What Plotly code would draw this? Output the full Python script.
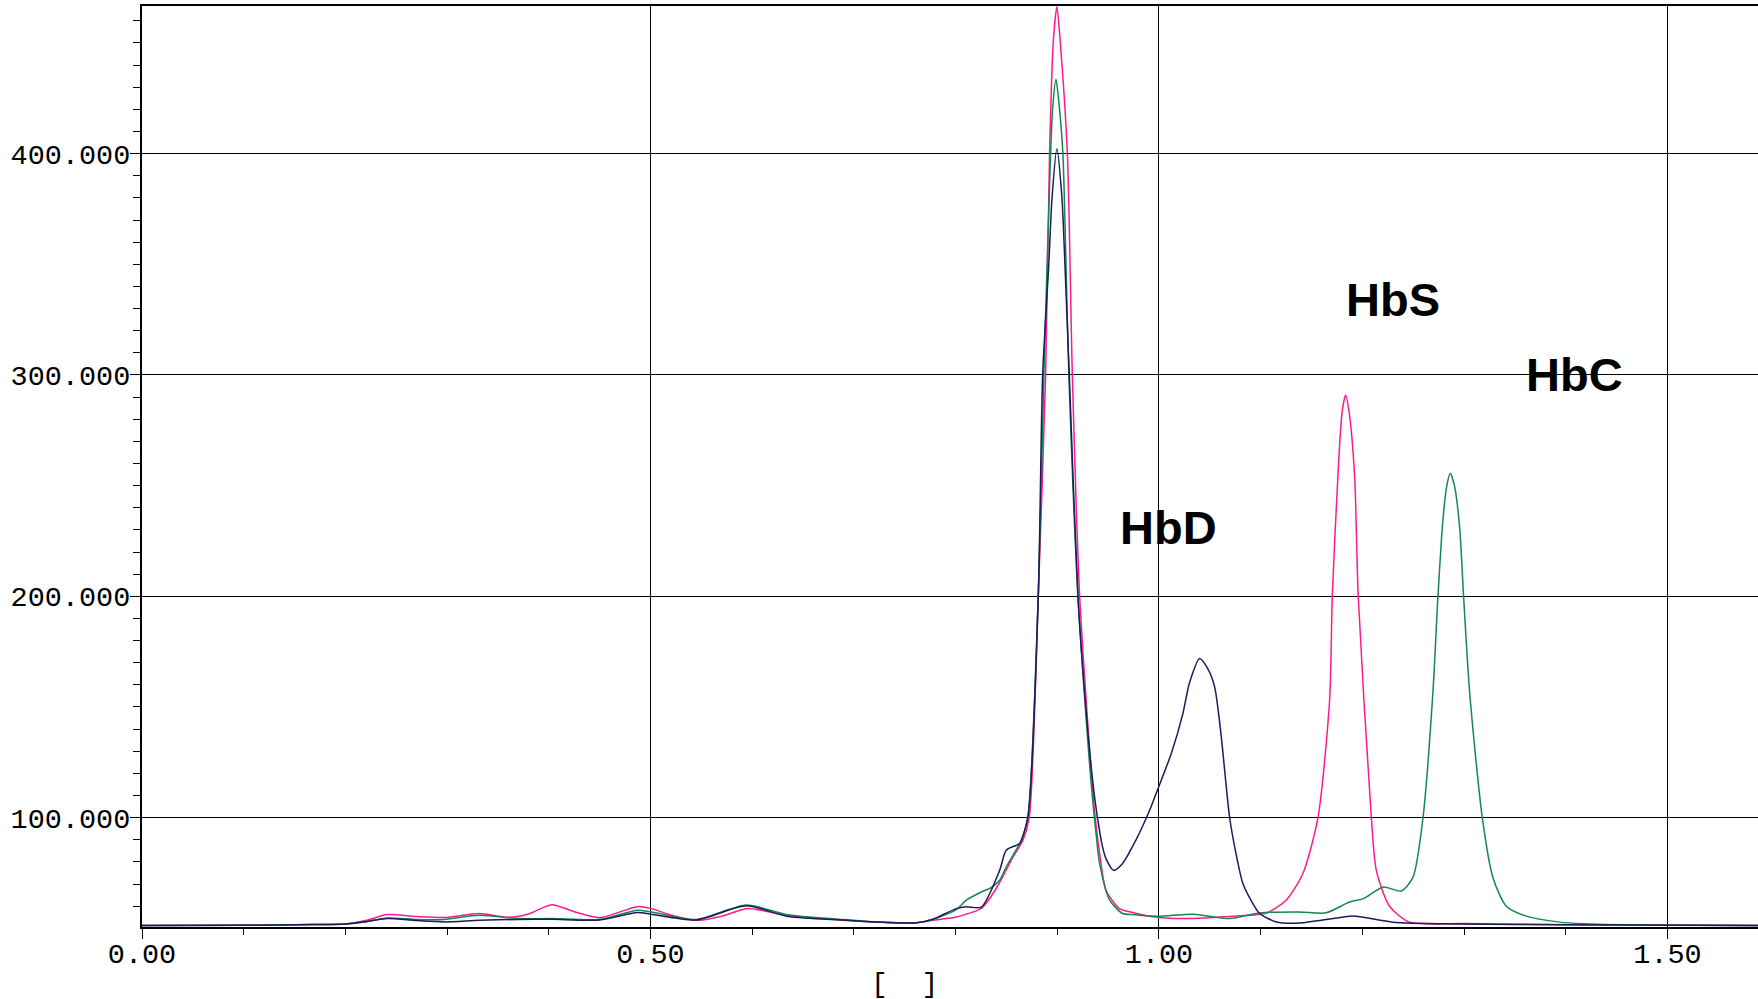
import plotly.graph_objects as go

# ---- data (x in the axis units, y in signal units) ----
hbs_x = [0.00, 0.10, 0.17, 0.20, 0.22, 0.241, 0.27, 0.2976, 0.3314, 0.36, 0.38, 0.4028, 0.425,
         0.45, 0.487, 0.5008, 0.52, 0.545, 0.57, 0.5942, 0.61, 0.6335, 0.6794, 0.7285, 0.7614,
         0.7777, 0.8007, 0.8105, 0.8253, 0.84, 0.8564, 0.8662, 0.8724, 0.8813, 0.8885, 0.8924,
         0.896, 0.8996, 0.903, 0.9099, 0.9148, 0.922, 0.934, 0.9373, 0.9416, 0.9479, 0.961,
         0.9711, 0.9905, 1.0235, 1.0727, 1.1055, 1.125, 1.1415, 1.1563, 1.1678, 1.1704, 1.1759,
         1.18, 1.1835, 1.187, 1.1924, 1.1959, 1.2088, 1.2137, 1.2267, 1.2464, 1.30, 1.40, 1.589]
hbs_y = [51.3, 51.4, 51.7, 52.0, 53.5, 56.2, 55.3, 54.9, 56.7, 55.0, 56.5, 60.7, 57.5,
         54.8, 59.8, 58.9, 56.0, 53.6, 55.5, 58.9, 58.0, 55.9, 54.0, 52.7, 52.5,
         53.6, 55.1, 56.4, 59.0, 68.0, 82.2, 89.8, 100, 200, 300, 400,
         450, 466.4, 450, 400, 300, 200, 117, 100, 84.0, 67.2, 58.9,
         57.5, 55.5, 54.4, 55.5, 56.9, 62.7, 74.8, 100, 153.4, 200, 254,
         283, 290.8, 283, 254, 200, 100, 76.2, 60.0, 52.8, 52.2, 51.6, 51.3]

hbc_x = [0.00, 0.10, 0.17, 0.20, 0.22, 0.241, 0.27, 0.2976, 0.3314, 0.369, 0.4028, 0.45,
         0.487, 0.5008, 0.545, 0.5942, 0.6335, 0.6794, 0.7285, 0.7614, 0.7777, 0.8007,
         0.8105, 0.8253, 0.835, 0.8433, 0.8498, 0.8646, 0.871, 0.8813, 0.8868, 0.8934,
         0.8955, 0.8987, 0.902, 0.9055, 0.9114, 0.9203, 0.933, 0.9383, 0.9416, 0.9515,
         0.9642, 0.9744, 0.981, 1.0006, 1.0333, 1.0694, 1.099, 1.138, 1.1643, 1.1874,
         1.2005, 1.2202, 1.2383, 1.2497, 1.2596, 1.2694, 1.2743, 1.2792, 1.283, 1.2864,
         1.2905, 1.2956, 1.2995, 1.3054, 1.3179, 1.3283, 1.3415, 1.3612, 1.394, 1.4175,
         1.498, 1.589]
hbc_y = [51.3, 51.4, 51.7, 52.0, 53.0, 54.7, 54.0, 54.0, 55.9, 54.4, 54.4, 54.0,
         58.2, 57.4, 54.0, 60.5, 56.3, 54.3, 52.7, 52.5, 54.0, 58.5,
         62.7, 66.4, 68.4, 71.7, 77.7, 89.8, 100, 200, 300, 400,
         421, 433.6, 421, 400, 300, 200, 117, 92.0, 79.3, 62.7,
         56.7, 56.2, 55.9, 55.5, 56.4, 54.4, 56.9, 57.4, 57.0, 61.9,
         63.3, 68.6, 66.9, 73.0, 100, 157, 200, 234.6, 250, 255.6,
         250, 231.3, 200, 157, 100, 73.0, 60.0, 55.5, 52.8, 52.1,
         51.4, 51.3]

hbd_x = [0.00, 0.10, 0.17, 0.20, 0.22, 0.241, 0.27, 0.2976, 0.3314, 0.369, 0.4028, 0.45,
         0.487, 0.5008, 0.545, 0.5942, 0.6335, 0.6794, 0.7285, 0.7614, 0.7777, 0.8007,
         0.8105, 0.8253, 0.8433, 0.8498, 0.8597, 0.863, 0.871, 0.8813, 0.8856, 0.8915,
         0.8948, 0.8996, 0.9046, 0.9076, 0.9118, 0.9203, 0.928, 0.9347, 0.9395, 0.9445,
         0.9479, 0.9554, 0.9642, 0.9774, 0.9905, 1.0006, 1.0121, 1.0235, 1.0298, 1.04,
         1.0478, 1.0547, 1.0609, 1.0694, 1.0757, 1.0825, 1.0904, 1.099, 1.1153, 1.138,
         1.171, 1.1907, 1.23, 1.2956, 1.40, 1.589]
hbd_y = [51.3, 51.4, 51.7, 52.0, 53.0, 54.4, 53.5, 52.9, 53.6, 54.0, 54.1, 53.8,
         57.2, 56.4, 53.8, 60.2, 55.5, 54.0, 52.7, 52.5, 54.1, 58.9,
         59.7, 59.6, 76.2, 85.3, 87.5, 88.3, 100, 200, 300, 348.9,
         379.8, 402.2, 379.8, 348.9, 300, 200, 150, 117, 100, 86.8,
         81.5, 76.2, 79.3, 90.0, 103.0, 115.0, 129.0, 147.0, 160.6, 171.9,
         167.4, 159.1, 138.0, 100.3, 83.8, 70.2, 62.7, 56.7, 52.9, 52.4,
         54.4, 55.6, 52.8, 52.0, 51.6, 51.3]

labels = ["HbD", "HbS", "HbC"]
label_x = [1.009, 1.230, 1.409]
label_y = [231, 334, 300]

x_ticks = [0.0, 0.5, 1.0, 1.5]
y_ticks = [100, 200, 300, 400]

# ---- figure ----
mono = "Liberation Mono, Courier New, monospace"
fig = go.Figure()
for xs, ys, col in [(hbs_x, hbs_y, "#FF1A8C"),
                    (hbc_x, hbc_y, "#13884F"),
                    (hbd_x, hbd_y, "#1B1B5E")]:
    fig.add_trace(go.Scatter(x=xs, y=ys, mode="lines",
                             line=dict(color=col, width=1.5, shape="spline", smoothing=0.7),
                             hoverinfo="skip", showlegend=False))

for t, lx, ly in zip(labels, label_x, label_y):
    fig.add_annotation(x=lx, y=ly, text="<b>" + t + "</b>", showarrow=False,
                       font=dict(family="Liberation Sans, Arial, sans-serif", size=47, color="black"),
                       xanchor="center", yanchor="middle")

fig.add_annotation(xref="paper", yref="paper", x=0.472, y=-0.062,
                   text="[\u00a0\u00a0]", showarrow=False,
                   font=dict(family=mono, size=28, color="black"),
                   xanchor="center", yanchor="middle")

fig.update_layout(
    width=1758, height=999,
    margin=dict(l=142, r=0, t=6, b=72),
    paper_bgcolor="white", plot_bgcolor="white",
    showlegend=False,
    xaxis=dict(range=[0, 1.589], tickvals=x_ticks, ticktext=[f"{v:.2f}" for v in x_ticks],
               showgrid=True, gridcolor="black", gridwidth=1.2,
               showline=True, linecolor="black", linewidth=2, mirror=True,
               ticks="outside", ticklen=10, tickcolor="black", tickwidth=1.2,
               ticklabelstandoff=-10,
               tickfont=dict(family=mono, size=28.5, color="black"),
               minor=dict(dtick=0.1, tick0=0, ticks="outside", ticklen=6,
                          tickcolor="black", tickwidth=1.2, showgrid=False),
               zeroline=False, fixedrange=True),
    yaxis=dict(range=[50.6, 466.7], tickvals=y_ticks, ticktext=[f"{v:.3f}" for v in y_ticks],
               showgrid=True, gridcolor="black", gridwidth=1.2,
               showline=True, linecolor="black", linewidth=2, mirror=False,
               ticks="outside", ticklen=10, tickcolor="black", tickwidth=1.2,
               ticklabelstandoff=-6,
               tickfont=dict(family=mono, size=28.5, color="black"),
               minor=dict(dtick=10, tick0=0, ticks="outside", ticklen=7,
                          tickcolor="black", tickwidth=1.2, showgrid=False),
               zeroline=False, fixedrange=True),
)

fig.write_html("out.html", config={"displayModeBar": False})
